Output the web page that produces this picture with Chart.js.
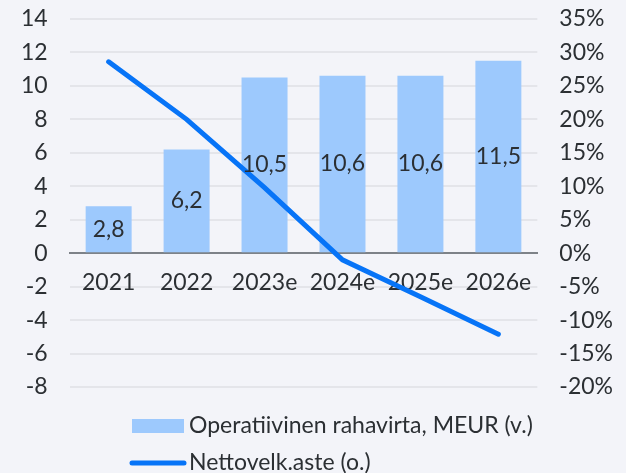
<!DOCTYPE html>
<html>
<head>
<meta charset="utf-8">
<script src="https://cdn.jsdelivr.net/npm/chart.js@4"></script>
<style>
  html, body { margin: 0; padding: 0; background: #f3f4f9; }
  #wrap { width: 626px; height: 473px; position: relative; }
</style>
</head>
<body>
<div id="wrap"><canvas id="canvas"></canvas></div>
<script>
const vuodet = ["2021", "2022", "2023e", "2024e", "2025e", "2026e"];
const rahavirta = [2.8, 6.2, 10.5, 10.6, 10.6, 11.5];
const velkaaste = [28.6, 20.0, 9.8, -1.0, -6.5, -12.1];
const vasenTicks = { min: -8, max: 14, step: 2 };
const oikeaTicks = { min: -20, max: 35, step: 5 };

const fontti = "Lato";
const koko = 23;
const tekstiVari = "#2b2f33";
const palkkiVari = "#9dc9fd";
const viivaVari = "#0774f7";

// arvot palkkien keskelle
const arvoPlugin = {
  id: "arvot",
  afterDatasetsDraw(chart) {
    const ctx = chart.ctx;
    const meta = chart.getDatasetMeta(0);
    ctx.save();
    ctx.font = koko + "px " + fontti;
    ctx.fillStyle = tekstiVari;
    ctx.textAlign = "center";
    ctx.textBaseline = "middle";
    meta.data.forEach((bar, i) => {
      const y = (bar.y + bar.base) / 2;
      ctx.fillText(rahavirta[i].toFixed(1).replace(".", ","), bar.x, y);
    });
    ctx.restore();
  }
};

// selite alas vasemmalle
const selitePlugin = {
  id: "selite",
  afterDraw(chart) {
    const ctx = chart.ctx;
    const ds = chart.data.datasets;
    const a = chart.chartArea;
    const x0 = 132;
    const y1 = a.bottom + 39;
    const y2 = a.bottom + 76;
    ctx.save();
    ctx.font = koko + "px " + fontti;
    ctx.textBaseline = "middle";
    ctx.fillStyle = ds[0].backgroundColor;
    ctx.fillRect(x0, y1 - 7, 52, 14);
    ctx.fillStyle = tekstiVari;
    ctx.fillText(ds[0].label, x0 + 57, y1);
    ctx.strokeStyle = ds[1].borderColor;
    ctx.lineWidth = 5;
    ctx.lineCap = "round";
    ctx.beginPath();
    ctx.moveTo(x0, y2);
    ctx.lineTo(x0 + 52, y2);
    ctx.stroke();
    ctx.fillText(ds[1].label, x0 + 57, y2);
    ctx.restore();
  }
};

new Chart("canvas", {
  type: "bar",
  data: {
    labels: vuodet,
    datasets: [
      {
        label: "Operatiivinen rahavirta, MEUR (v.)",
        data: rahavirta,
        backgroundColor: palkkiVari,
        yAxisID: "y",
        barPercentage: 0.59,
        categoryPercentage: 1,
        order: 2
      },
      {
        type: "line",
        label: "Nettovelk.aste (o.)",
        data: velkaaste,
        borderColor: viivaVari,
        borderWidth: 5,
        borderCapStyle: "round",
        pointRadius: 0,
        tension: 0,
        yAxisID: "y1",
        order: 1
      }
    ]
  },
  options: {
    responsive: true,
    maintainAspectRatio: false,
    animation: false,
    layout: { padding: { left: 18, right: 10, top: 19, bottom: 86 } },
    plugins: {
      legend: { display: false },
      tooltip: { enabled: false }
    },
    scales: {
      x: {
        position: { y: 0 },
        grid: { display: false, drawTicks: false },
        border: { color: "#7d8288", width: 2 },
        ticks: { color: tekstiVari, font: { family: fontti, size: koko }, padding: 16, maxRotation: 0, autoSkip: false }
      },
      y: {
        position: "left",
        min: vasenTicks.min,
        max: vasenTicks.max,
        grid: { color: "#e4e5ea", lineWidth: 2, drawTicks: true, tickLength: 19, tickColor: "transparent" },
        border: { display: false },
        ticks: { stepSize: vasenTicks.step, color: tekstiVari, font: { family: fontti, size: koko }, padding: 3 }
      },
      y1: {
        position: "right",
        min: oikeaTicks.min,
        max: oikeaTicks.max,
        grid: { drawOnChartArea: false, drawTicks: true, tickLength: 19, tickColor: "transparent" },
        border: { display: false },
        ticks: {
          stepSize: oikeaTicks.step,
          color: tekstiVari,
          font: { family: fontti, size: koko },
          padding: 3,
          callback: (v) => v + "%"
        }
      }
    }
  },
  plugins: [arvoPlugin, selitePlugin]
});
</script>
</body>
</html>
